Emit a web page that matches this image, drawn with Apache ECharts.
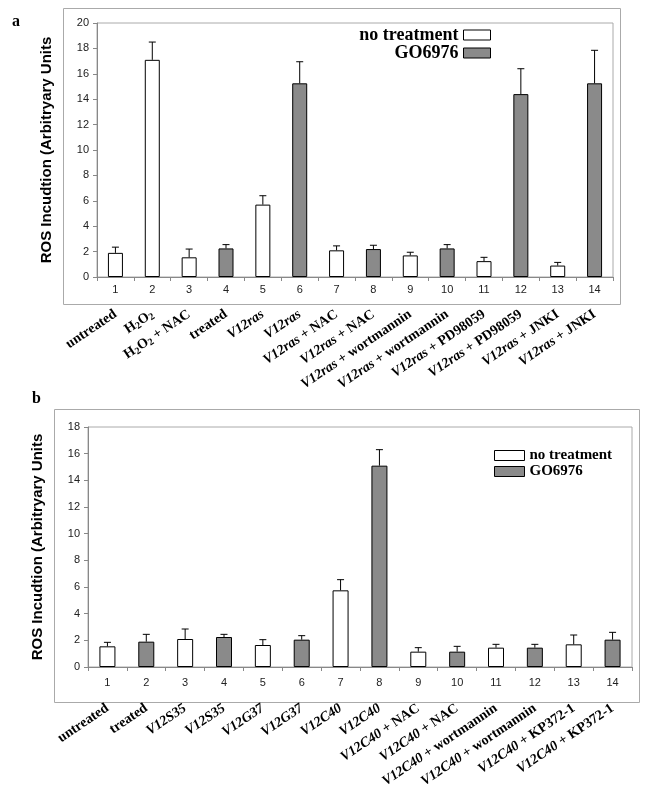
<!DOCTYPE html>
<html><head><meta charset="utf-8">
<script src="https://cdn.jsdelivr.net/npm/echarts@6/dist/echarts.min.js"></script>
<style>html,body{margin:0;padding:0;background:#fff}#c{width:649px;height:798px}</style>
</head><body><div id="c"></div>
<script>
// ---- data ----
var numbers = ['1','2','3','4','5','6','7','8','9','10','11','12','13','14'];
var namesA = ['untreated','{n|H}{s|2}{n|O}{s|2}','{n|H}{s|2}{n|O}{s|2}{n| + NAC}','treated',
  '{i|V12ras}','{i|V12ras}','{i|V12ras}{n| + NAC}','{i|V12ras}{n| + NAC}',
  '{i|V12ras}{n| + wortmannin}','{i|V12ras}{n| + wortmannin}','{i|V12ras}{n| + PD98059}','{i|V12ras}{n| + PD98059}',
  '{i|V12ras}{n| + JNKI}','{i|V12ras}{n| + JNKI}'];
var namesB = ['untreated','treated','{i|V12S35}','{i|V12S35}','{i|V12G37}','{i|V12G37}','{i|V12C40}','{i|V12C40}',
  '{i|V12C40}{n| + NAC}','{i|V12C40}{n| + NAC}','{i|V12C40}{n| + wortmannin}','{i|V12C40}{n| + wortmannin}',
  '{i|V12C40}{n| + KP372-1}','{i|V12C40}{n| + KP372-1}'];
var valuesA = [1.9,17.1,1.55,2.25,5.7,15.25,2.1,2.2,1.7,2.25,1.25,14.4,0.9,15.25];
var errA    = [0.45,1.4,0.65,0.3,0.7,1.7,0.35,0.3,0.25,0.3,0.3,2.0,0.25,2.6];
var groupA  = [0,0,0,1,0,1,0,1,0,1,0,1,0,1]; // 0 = no treatment, 1 = GO6976
var valuesB = [1.55,1.9,2.1,2.25,1.65,2.05,5.75,15.1,1.15,1.15,1.45,1.45,1.7,2.05];
var errB    = [0.3,0.55,0.75,0.2,0.4,0.3,0.8,1.2,0.3,0.4,0.25,0.25,0.7,0.55];
var groupB  = [0,1,0,1,0,1,0,1,0,1,0,1,0,1];
var yTicksA = {min:0,max:20,interval:2};
var yTicksB = {min:0,max:18,interval:2};
var seriesNames = ['no treatment','GO6976'];
var colors = ['#ffffff','#8a8a8a'];

var SERIF = '"Liberation Serif","Times New Roman",serif';
var SANS = '"Liberation Sans",Arial,sans-serif';
var richStyle = {
  n:{fontFamily:SERIF,fontWeight:'bold',fontSize:14,color:'#000'},
  i:{fontFamily:SERIF,fontWeight:'bold',fontStyle:'italic',fontSize:14,color:'#000'},
  s:{fontFamily:SERIF,fontWeight:'bold',fontSize:10,color:'#000',verticalAlign:'bottom',padding:[6,0,0,0]}
};

function barData(values, group, g){
  return values.map(function(v,i){ return group[i]===g ? v : null; });
}
function errData(values, errs){
  return values.map(function(v,i){ return [i, v, v+errs[i]]; });
}
function errRender(params, api){
  var x = api.value(0), v = api.value(1), t = api.value(2);
  var p0 = api.coord([x, v]), p1 = api.coord([x, t]);
  var st = {stroke:'#000', lineWidth:1};
  return {type:'group', children:[
    {type:'line', shape:{x1:p0[0],y1:p0[1],x2:p1[0],y2:p1[1]}, style:st},
    {type:'line', shape:{x1:p1[0]-3.5,y1:p1[1],x2:p1[0]+3.5,y2:p1[1]}, style:st}
  ]};
}
function numAxis(grid, margin){
  return {type:'category', gridIndex:grid, data:numbers, position:'bottom',
    axisLine:{lineStyle:{color:'#888',width:1}},
    axisTick:{show:true,length:4,lineStyle:{color:'#888'}},
    axisLabel:{margin:margin,fontFamily:SANS,fontSize:11,color:'#222'}};
}
function nameAxis(grid, names, margin){
  return {type:'category', gridIndex:grid, data:numbers, position:'bottom',
    axisLine:{show:false}, axisTick:{show:false},
    axisLabel:{interval:0, rotate:34, margin:margin,
      formatter:function(v,idx){ var s = names[idx]; return s.indexOf('{')===0 ? s : '{n|'+s+'}'; },
      rich:richStyle}};
}
function yAxis(grid, t, gap){
  return {type:'value', gridIndex:grid, min:t.min, max:t.max, interval:t.interval,
    splitLine:{show:false},
    axisLine:{show:true,lineStyle:{color:'#888'}},
    axisTick:{show:true,length:4,lineStyle:{color:'#888'}},
    axisLabel:{margin:8,fontFamily:SANS,fontSize:11,color:'#222'},
    name:'ROS Incudtion (Arbitryary Units', nameLocation:'middle', nameGap:gap,
    nameTextStyle:{fontFamily:SANS,fontWeight:'bold',fontSize:15,color:'#000'}};
}
function bars(xi, yi, values, group, width){
  return [0,1].map(function(g){
    return {type:'bar', name:seriesNames[g], xAxisIndex:xi, yAxisIndex:yi,
      data:barData(values, group, g), barWidth:width, barGap:'-100%',
      itemStyle:{color:colors[g], borderColor:'#000', borderWidth:1}};
  });
}

var chart = echarts.init(document.getElementById('c'), null, {renderer:'canvas'});
chart.setOption({
  animation:false,
  title:[
    {text:'a', left:7, top:9, textStyle:{fontFamily:SERIF,fontWeight:'bold',fontSize:16,color:'#000'}},
    {text:'b', left:27, top:386, textStyle:{fontFamily:SERIF,fontWeight:'bold',fontSize:16,color:'#000'}}
  ],
  graphic:[
    {type:'rect', shape:{x:63.5,y:8.5,width:557,height:296}, style:{fill:'none',stroke:'#aaa',lineWidth:1}, z:-1},
    {type:'rect', shape:{x:54.5,y:409.5,width:585,height:293}, style:{fill:'none',stroke:'#aaa',lineWidth:1}, z:-1}
  ],
  legend:[
    {data:seriesNames, orient:'vertical', align:'right', right:153, top:21, itemWidth:27, itemHeight:10, itemGap:0,
      icon:'rect', itemStyle:{borderColor:'#000',borderWidth:1}, selectedMode:false,
      textStyle:{fontFamily:SERIF,fontWeight:'bold',fontSize:18,color:'#000'}},
    {data:seriesNames, orient:'vertical', align:'left', left:489, top:443, itemWidth:30, itemHeight:10, itemGap:1,
      icon:'rect', itemStyle:{borderColor:'#000',borderWidth:1}, selectedMode:false,
      textStyle:{fontFamily:SERIF,fontWeight:'bold',fontSize:15,color:'#000'}}
  ],
  grid:[
    {left:97, top:23, width:516, height:254, show:true, borderColor:'#aaa', borderWidth:1, containLabel:false},
    {left:88, top:427, width:544, height:240, show:true, borderColor:'#aaa', borderWidth:1, containLabel:false}
  ],
  xAxis:[ numAxis(0,7), nameAxis(0,namesA,36), numAxis(1,10), nameAxis(1,namesB,40) ],
  yAxis:[ yAxis(0,yTicksA,43), yAxis(1,yTicksB,43) ],
  series: [].concat(
    bars(0,0,valuesA,groupA,15),
    [{type:'custom', xAxisIndex:0, yAxisIndex:0, renderItem:errRender, data:errData(valuesA,errA),
      encode:{x:0,y:[1,2]}, z:3, silent:true}],
    bars(2,1,valuesB,groupB,16),
    [{type:'custom', xAxisIndex:2, yAxisIndex:1, renderItem:errRender, data:errData(valuesB,errB),
      encode:{x:0,y:[1,2]}, z:3, silent:true}]
  )
});
</script></body></html>
